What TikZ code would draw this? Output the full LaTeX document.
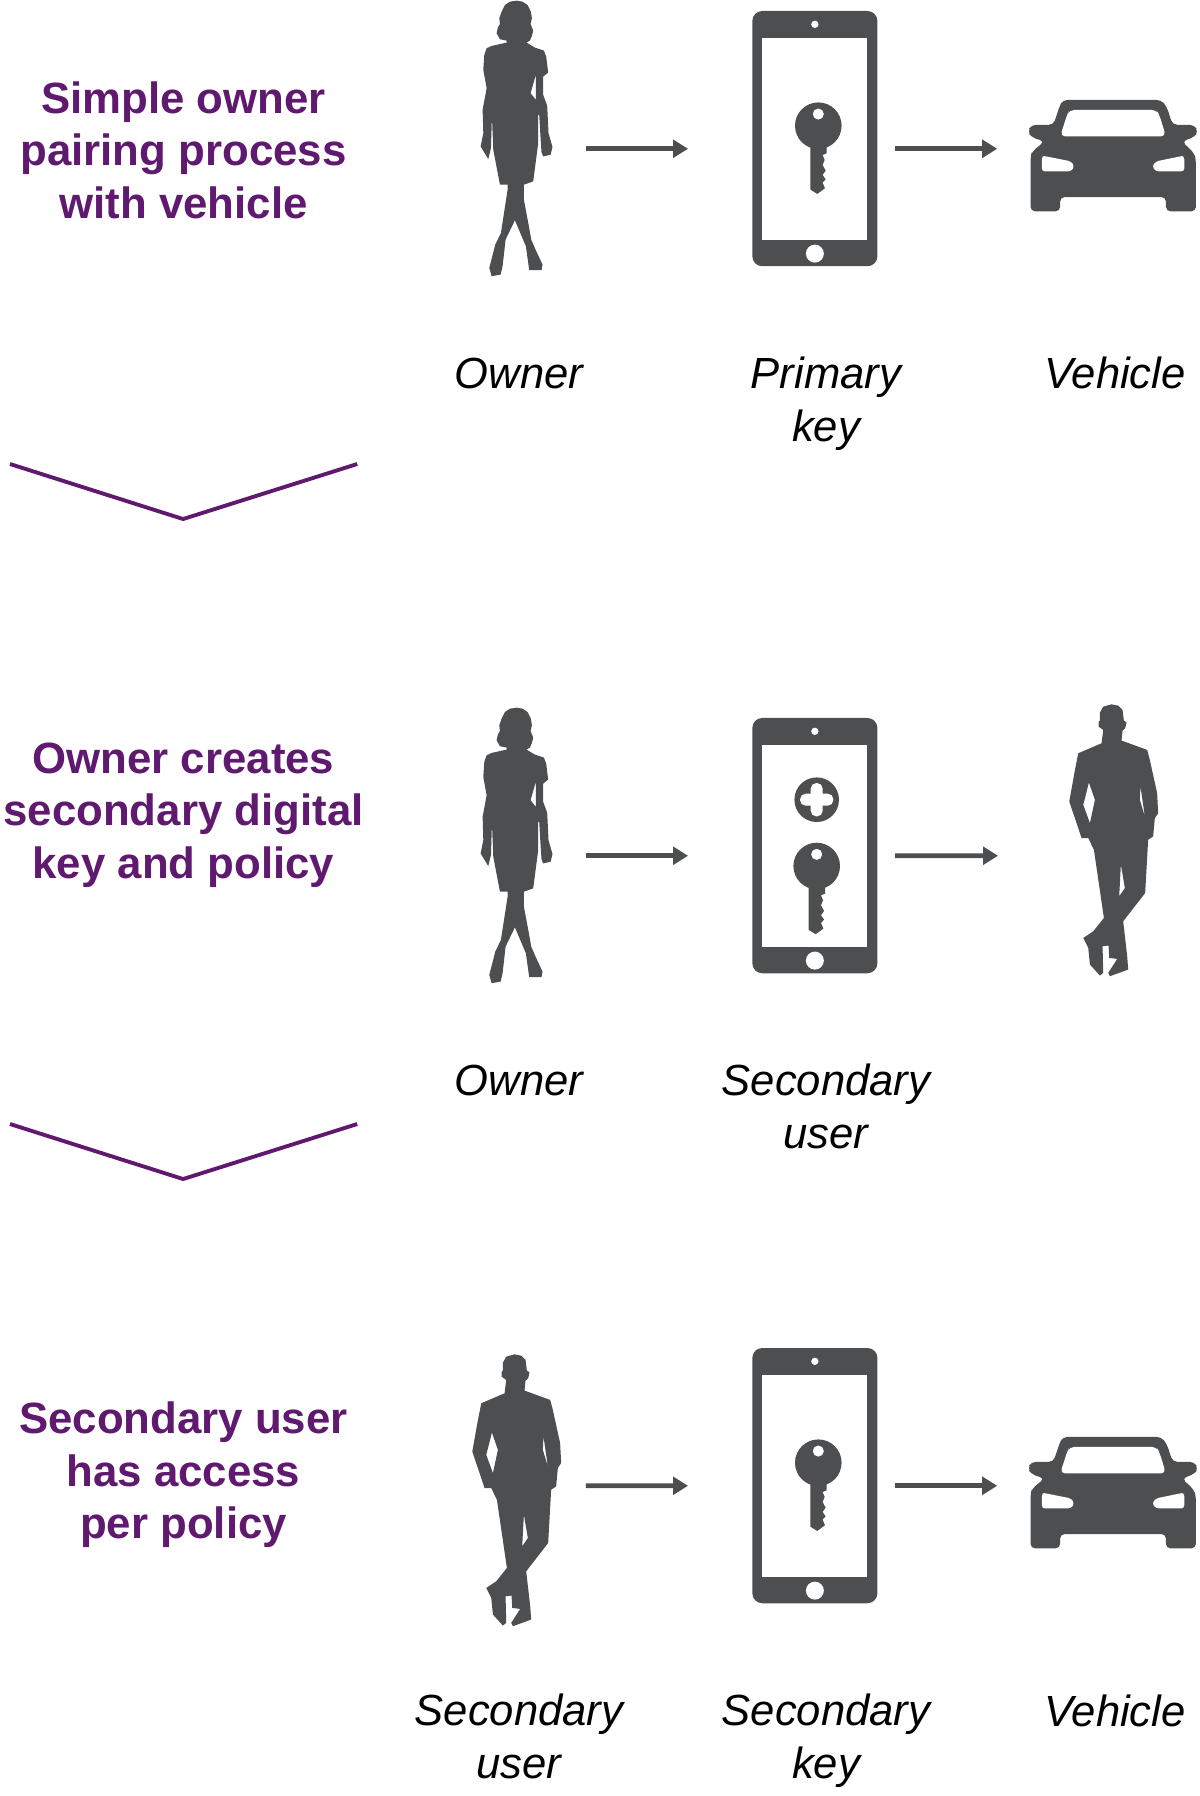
\documentclass[tikz,border=0pt]{standalone}
\usepackage{fontspec}
\setmainfont{Liberation Sans}
\usepackage{tikz}
\usetikzlibrary{positioning}
\usetikzlibrary{arrows.meta}

\definecolor{icongray}{HTML}{4D4E50}
\definecolor{titlepurple}{HTML}{5F1A6F}

\tikzset{
    iconunits/.style={x=0.003333cm, y=-0.003333cm},
    iconfill/.style={fill=icongray, draw=none},
    flow/.style={draw=icongray, line width=1.3pt, -{Triangle[length=0.15cm, width=0.175cm]}},
    rowtitle/.style={text=titlepurple, font=\fontsize{12.45}{14.95}\selectfont\bfseries, align=center, inner sep=0pt},
    caption/.style={text=black, font=\fontsize{12.4}{14.95}\selectfont\itshape, align=center, inner sep=0pt, anchor=base},
    chevron/.style={draw=titlepurple, line width=1.1pt},
    pics/woman/.style={code={
        \tikzset{iconunits}
        \fill[iconfill, even odd rule] plot[sharp cycle] coordinates {
            (170,2) (188,5) (203,15) (213,35) (216,55) (212,72) (220,92) (216,108) (210,122) (200,128) (225,143) (252,152) (259,170) (262,195) (265,218) (250,230)
            (250,285) (262,318) (266,400) (278,442) (272,465) (250,470) (245,458) (243,430) (238,345) (235,345) (235,430)
            (220,545) (192,555) (192,600) (207,680) (214,720) (227,750) (248,795) (245,812) (208,812) (198,740)
            (165,662) (137,720) (128,800) (122,825) (95,830) (88,805) (106,735) (123,700) (143,570) (143,555)
            (120,555) (100,450) (96,350) (93,445) (85,478) (62,440) (70,400) (68,330) (80,265) (70,210) (73,165) (80,145)
            (95,138) (140,128) (140,122) (120,118) (110,100) (114,82) (120,72) (118,55) (125,35) (135,15) (150,5)}
            (228,225) -- (222,245) -- (212,280) -- (228,300) -- cycle;
        \coordinate (-east) at (379,447);
    }},
    pics/man/.style={code={
        \tikzset{iconunits}
        \fill[iconfill, even odd rule] plot[sharp cycle] coordinates {
            (215,43) (235,47) (248,60) (252,92) (260,97) (256,115) (248,122) (245,152) (322,180) (330,210) (352,310) (355,370) (345,385)
            (340,440) (325,450) (316,610) (250,695) (262,800) (265,840) (210,860) (205,850) (232,808) (208,805)
            (206,768) (188,770) (190,850) (180,858) (150,825) (145,775) (130,745) (160,725) (192,685) (162,480)
            (145,445) (125,445) (88,335) (105,240) (115,190) (185,160) (190,120) (176,110) (176,95) (180,92) (180,68) (190,50)}
            (147,278) -- (165,330) -- (150,400) -- (130,345) -- cycle
            (302,290) -- (315,380) -- (300,330) -- cycle
            (243,525) -- (255,595) -- (238,620) -- cycle;
        \coordinate (-east) at (429,438);
        \coordinate (-west) at (-126,498);
    }},
    pics/phone/.style={code={
        \tikzset{iconunits}
        \fill[iconfill, rounded corners=1mm] (67,33) rectangle (443,800);
        \fill[white] (97,113) rectangle (413,722);
        \fill[white] (255,73) circle (11);
        \fill[white] (255,762) circle (27);
        \coordinate (-west) at (-126,447);
        \coordinate (-east) at (496,447);
    }},
    pics/keyicon/.style={code={
        \tikzset{iconunits}
        \fill[iconfill, even odd rule] (0,0) circle (70) (0,-35) circle (17);
        \fill[iconfill] (-24,40) -- (-24,192) -- (-3,205) -- (20,188) -- (13,171) -- (22,161) -- (13,148) -- (22,135)
            -- (13,118) -- (19,103) -- (13,88) -- (25,83) -- (25,40) -- cycle;
    }},
    pics/plusicon/.style={code={
        \tikzset{iconunits}
        \fill[iconfill] (0,0) circle (67);
        \fill[white, rounded corners=0.55mm] (-18,-50) rectangle (18,50);
        \fill[white, rounded corners=0.55mm] (-50,-18) rectangle (50,18);
    }},
    pics/car/.style={code={
        \tikzset{iconunits}
        \fill[iconfill, rounded corners=0.45mm] (1000,300) -- (1295,300) -- (1312,320) -- (1330,375) -- (1395,375) -- (1407,395)
            -- (1395,412) -- (1358,425) -- (1395,460) -- (1400,480) -- (1400,635) -- (1310,635) -- (1310,592)
            -- (992,592) -- (992,635) -- (903,635) -- (903,470) -- (908,455) -- (945,425) -- (905,412) -- (895,395)
            -- (905,375) -- (972,375) -- (990,320) -- cycle;
        \fill[white, rounded corners=0.5mm] (992,410) -- (1013,345) -- (1020,330) -- (1280,330) -- (1290,345) -- (1310,410) -- cycle;
        \fill[white, rounded corners=0.3mm] (945,469) -- (1025,485) -- (1035,500) -- (1025,515) -- (937,515) -- (937,469) -- cycle;
        \fill[white, rounded corners=0.3mm] (1357,469) -- (1280,485) -- (1268,500) -- (1280,515) -- (1365,515) -- (1365,469) -- cycle;
        \coordinate (-west) at (803,447);
    }},
}

\begin{document}
\begin{tikzpicture}[x=0.01cm, y=-0.01cm]
    \useasboundingbox (0,0) rectangle (1200,1796);

    % pairing
    \node[rowtitle] (pairing) at (183.5,150) {Simple owner\\pairing process\\with vehicle};
    \pic (womana) at (460,0) {woman};
    \pic (phonea) at (730,0) {phone};
    \pic (keya) at (818.3,125.7) {keyicon};
    \pic (cara) at (730,0) {car};
    \draw[flow] (womana-east) -- (phonea-west);
    \draw[flow] (phonea-east) -- (cara-west);

    \node[caption] (ownera) at (519,388) {Owner};
    \node[caption] (primary) at (826,441) {Primary\\key};
    \node[caption] (vehiclea) at (1115,388) {Vehicle};

    \coordinate (chevaleft) at (10,464);
    \coordinate [below right=0.55cm and 1.73cm of chevaleft] (chevamid);
    \coordinate [above right=0.55cm and 1.74cm of chevamid] (chevaright);
    \draw[chevron] (chevaleft) -- (chevamid) -- (chevaright);

    % secondary key
    \node[rowtitle] (creating) at (183.5,815) {Owner creates\\secondary digital\\key and policy};
    \pic (womanb) at (460,707) {woman};
    \pic (phoneb) at (730,707) {phone};
    \pic (plusb) at (816.7,799.7) {plusicon};
    \pic (keyb) at (816.7,866) {keyicon};
    \pic (manb) at (1040,690) {man};
    \draw[flow] (womanb-east) -- (phoneb-west);
    \draw[flow] (phoneb-east) -- (manb-west);

    \node[caption] (ownerb) at (519,1095) {Owner};
    \node[caption] (seconduser) at (826,1148) {Secondary\\user};

    \coordinate (chevbleft) at (10,1124);
    \coordinate [below right=0.55cm and 1.73cm of chevbleft] (chevbmid);
    \coordinate [above right=0.55cm and 1.74cm of chevbmid] (chevbright);
    \draw[chevron] (chevbleft) -- (chevbmid) -- (chevbright);

    % access
    \node[rowtitle] (access) at (183.5,1475) {Secondary user\\has access\\per policy};
    \pic (manc) at (443,1340) {man};
    \pic (phonec) at (730,1337) {phone};
    \pic (keyc) at (818.3,1462.7) {keyicon};
    \pic (carc) at (730,1337) {car};
    \draw[flow] (manc-east) -- (phonec-west);
    \draw[flow] (phonec-east) -- (carc-west);

    \node[caption] (userc) at (519,1778) {Secondary\\user};
    \node[caption] (secondkey) at (826,1778) {Secondary\\key};
    \node[caption] (vehiclec) at (1115,1726) {Vehicle};
\end{tikzpicture}
\end{document}
